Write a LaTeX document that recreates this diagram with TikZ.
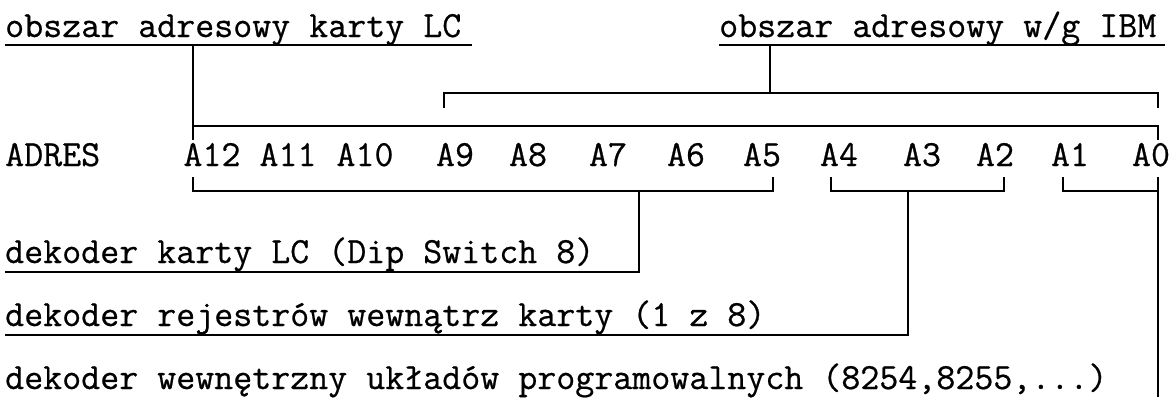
\documentclass[tikz,border=0pt]{standalone}
\usepackage{fontspec}
\setmonofont{Latin Modern Mono}[FakeBold=0.6]
\begin{document}
\begin{tikzpicture}[x=1pt,y=-1pt,
  txt/.style={anchor=base west, inner sep=0pt, font=\ttfamily\fontsize{36.9}{42}\selectfont},
  lbl/.style={anchor=base, inner sep=0pt, font=\ttfamily\fontsize{36.9}{42}\selectfont},
  wire/.style={line width=1.8pt, line join=miter}]
\useasboundingbox (0,0) rectangle (1169,397);
% texts
\node[txt] (lc) at (5,37) {obszar adresowy karty LC};
\node[txt] (ibm) at (719,37) {obszar adresowy w/g IBM};
\node[txt] (adr) at (5,166) {ADRES};
\foreach \n/\x in {12/212,11/288,10/365,9/455,8/528,7/608,6/686,5/762,4/839,3/922,2/995,1/1070,0/1151}
  \node[lbl] (a\n) at (\x,166) {A\n};
\node[txt] (dek1) at (5,263) {dekoder karty LC (Dip Switch 8)};
\node[txt] (dek2) at (5,326) {dekoder rejestrów wewnątrz karty (1 z 8)};
\node[txt] (dek3) at (5,389) {dekoder wewnętrzny układów programowalnych (8254,8255,...)};
% coordinates
\coordinate (lcU0) at (5,45);   \coordinate (lcU1) at (472,45);
\coordinate (ibmU0) at (719,45); \coordinate (ibmU1) at (1165,45);
\coordinate (lcV) at (193,45);  \coordinate (lcB) at (193,140);
\coordinate (lcH0) at (193,126); \coordinate (lcH1) at (1158,126); \coordinate (lcT1) at (1158,140);
\coordinate (ibmV) at (770,45); \coordinate (ibmH) at (770,93);
\coordinate (ibmL0) at (444,108); \coordinate (ibmL1) at (444,93);
\coordinate (ibmR1) at (1158,93); \coordinate (ibmR0) at (1158,108);
% lower brackets
\coordinate (b1L) at (193,177); \coordinate (b1R) at (773,177);
\coordinate (b1Lb) at (193,191); \coordinate (b1Rb) at (773,191);
\coordinate (b1M) at (639,191); \coordinate (b1D) at (639,272); \coordinate (u1) at (5,272);
\coordinate (b2L) at (831,177); \coordinate (b2R) at (1004,177);
\coordinate (b2Lb) at (831,191); \coordinate (b2Rb) at (1004,191);
\coordinate (b2M) at (908,191); \coordinate (b2D) at (908,335); \coordinate (u2) at (5,335);
\coordinate (b3L) at (1063,177); \coordinate (b3Lb) at (1063,191);
\coordinate (b3R) at (1158,177); \coordinate (b3D) at (1158,397);
% underlines
\draw[wire] (lcU0) -- (lcU1);
\draw[wire] (ibmU0) -- (ibmU1);
% upper brackets
\draw[wire] (lcV) -- (lcB);
\draw[wire] (lcH0) -- (lcH1) -- (lcT1);
\draw[wire] (ibmV) -- (ibmH);
\draw[wire] (ibmL0) -- (ibmL1) -- (ibmR1) -- (ibmR0);
% lower brackets
\draw[wire] (b1L) -- (b1Lb) -- (b1Rb) -- (b1R);
\draw[wire] (b1M) -- (b1D) -- (u1);
\draw[wire] (b2L) -- (b2Lb) -- (b2Rb) -- (b2R);
\draw[wire] (b2M) -- (b2D) -- (u2);
\draw[wire] (b3L) -- (b3Lb) -- (b3D |- b3Lb) -- (b3D);
\draw[wire] (b3R) -- (b3D |- b3Lb);
\end{tikzpicture}
\end{document}
